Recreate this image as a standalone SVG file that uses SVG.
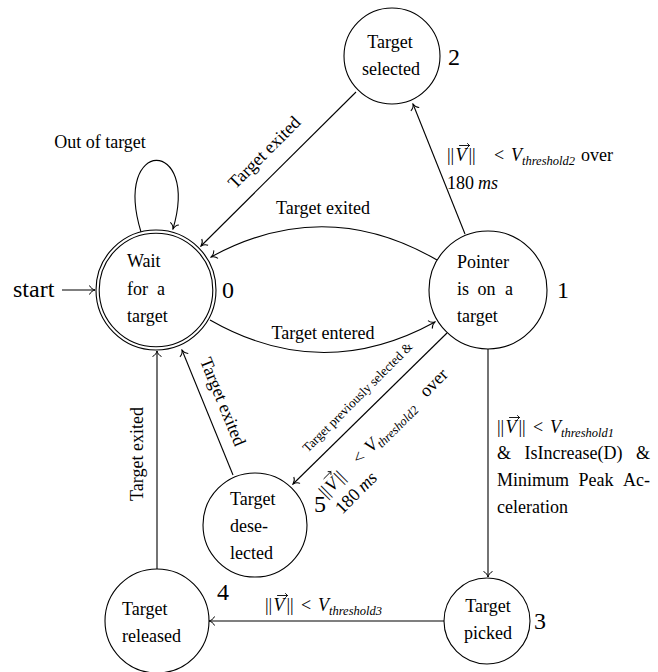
<svg xmlns="http://www.w3.org/2000/svg" width="658" height="672" viewBox="0 0 658 672">
<defs>
<marker id="arr" markerUnits="userSpaceOnUse" viewBox="-7 -6 8 12" refX="0" refY="0" markerWidth="8" markerHeight="12" orient="auto">
<path d="M -5.5 -4.5 C -4.5 -1.8 -1.5 -0.4 0 0 C -1.5 0.4 -4.5 1.8 -5.5 4.5" fill="none" stroke="#000" stroke-width="1"/>
</marker>
<style>
.n { fill: #fff; stroke: #000; stroke-width: 1.1; }
.t { font-family: "Liberation Serif", "Times New Roman", serif; font-size: 18px; fill: #000; }
.big { font-size: 24px; }
.sm { font-size: 13px; }
.i { font-style: italic; }
.sub { font-style: italic; font-size: 12.5px; }
.e { fill: none; stroke: #000; stroke-width: 1.1; marker-end: url(#arr); }
.va { fill: none; stroke: #000; stroke-width: 0.9; stroke-linecap: round; }
.m { text-anchor: middle; }
.end { text-anchor: end; }
</style>
</defs>
<rect width="658" height="672" fill="#fff"/>

<g id="edges">
<line class="e" x1="62" y1="290" x2="95" y2="290"/>
<path class="e" d="M 141 232 C 112 137, 200 137, 173 229"/>
<line class="e" x1="356" y1="92" x2="201" y2="246"/>
<path class="e" d="M 437 260 Q 325 195, 211 257"/>
<path class="e" d="M 210 320 Q 322 384, 435 322"/>
<line class="e" x1="465" y1="234" x2="413" y2="104"/>
<line class="e" x1="447" y1="333" x2="293" y2="484"/>
<line class="e" x1="233" y1="475" x2="182" y2="350"/>
<line class="e" x1="157" y1="569" x2="157" y2="351"/>
<line class="e" x1="488" y1="349" x2="488" y2="577"/>
<line class="e" x1="444" y1="621" x2="209" y2="621"/>
</g>

<g id="edge-labels">
<text class="t big" x="13" y="297">start</text>
<text class="t m" x="100" y="148">Out of target</text>
<text class="t m" transform="translate(265,153) rotate(-45)" y="5">Target exited</text>
<text class="t m" x="323" y="214">Target exited</text>
<text class="t m" x="323" y="339">Target entered</text>
<text class="t m" transform="translate(222,402) rotate(67.8)" y="5">Target exited</text>
<text class="t m" transform="translate(138,454) rotate(-90)" y="5">Target exited</text>

<g id="label-1-2">
<text class="t"><tspan x="447" y="161">||</tspan><tspan class="i" x="455.5" y="161">V</tspan><tspan x="468.5" y="161">||</tspan><tspan x="494" y="161">&lt;</tspan><tspan class="i" x="511" y="161">V</tspan><tspan class="sub" x="522" y="165">threshold2</tspan><tspan x="581" y="161">over</tspan></text>
<path class="va" d="M 459.5 145.5 H 469.5 M 467.5 143.5 L 469.5 145.5 L 467.5 147.5"/>
<text class="t" y="189"><tspan x="447">180</tspan><tspan class="i" x="478">ms</tspan></text>
</g>

<g id="label-1-5" transform="rotate(-45)">
<text class="t sm m" x="-28" y="538">Target previously selected &amp;</text>
<text class="t"><tspan x="-122" y="583">||</tspan><tspan class="i" x="-113.5" y="583">V</tspan><tspan x="-100.5" y="583">||</tspan><tspan x="-75" y="583">&lt;</tspan><tspan class="i" x="-58" y="583">V</tspan><tspan class="sub" x="-47" y="587">threshold2</tspan><tspan x="20" y="583">over</tspan></text>
<path class="va" d="M -109.5 567.5 H -99.5 M -101.5 565.5 L -99.5 567.5 L -101.5 569.5"/>
<text class="t" y="606"><tspan x="-122">180</tspan><tspan class="i" x="-91">ms</tspan></text>
</g>

<g id="label-1-3">
<text class="t"><tspan x="497" y="433">||</tspan><tspan class="i" x="505.5" y="433">V</tspan><tspan x="518.5" y="433">||</tspan><tspan x="533" y="433">&lt;</tspan><tspan class="i" x="550" y="433">V</tspan><tspan class="sub" x="561" y="437">threshold1</tspan></text>
<path class="va" d="M 509.5 417.5 H 519.5 M 517.5 415.5 L 519.5 417.5 L 517.5 419.5"/>
<text class="t" x="497" y="459">&amp;</text>
<text class="t m" x="573.5" y="459">IsIncrease(D)</text>
<text class="t end" x="650" y="459">&amp;</text>
<text class="t" x="497" y="486">Minimum</text>
<text class="t m" x="596" y="486">Peak</text>
<text class="t end" x="650" y="486">Ac-</text>
<text class="t" x="497" y="513">celeration</text>
</g>

<g id="label-3-4">
<text class="t"><tspan x="265" y="611">||</tspan><tspan class="i" x="273.5" y="611">V</tspan><tspan x="286.5" y="611">||</tspan><tspan x="301" y="611">&lt;</tspan><tspan class="i" x="318" y="611">V</tspan><tspan class="sub" x="329" y="615">threshold3</tspan></text>
<path class="va" d="M 277.5 595.5 H 287.5 M 285.5 593.5 L 287.5 595.5 L 285.5 597.5"/>
</g>
</g>

<g id="node0">
<circle class="n" cx="156" cy="290" r="60"/>
<circle class="n" cx="156" cy="290" r="56.8"/>
<text class="t" x="127" y="267">Wait</text>
<text class="t" x="127" y="295">for</text>
<text class="t end" x="165" y="295">a</text>
<text class="t" x="127" y="322">target</text>
<text class="t big" x="222" y="298">0</text>
</g>

<g id="node1">
<circle class="n" cx="488" cy="290" r="59"/>
<text class="t" x="457" y="268">Pointer</text>
<text class="t" x="457" y="295">is</text>
<text class="t m" x="486.5" y="295">on</text>
<text class="t end" x="513" y="295">a</text>
<text class="t" x="457" y="322">target</text>
<text class="t big" x="557" y="298">1</text>
</g>

<g id="node2">
<circle class="n" cx="392" cy="56" r="48"/>
<text class="t m" x="390" y="48">Target</text>
<text class="t m" x="391" y="75">selected</text>
<text class="t big" x="448" y="65">2</text>
</g>

<g id="node3">
<circle class="n" cx="487" cy="621" r="43"/>
<text class="t m" x="488" y="612">Target</text>
<text class="t m" x="488" y="639">picked</text>
<text class="t big" x="534" y="629">3</text>
</g>

<g id="node4">
<circle class="n" cx="157" cy="621" r="52"/>
<text class="t" x="122" y="615">Target</text>
<text class="t" x="122" y="642">released</text>
<text class="t big" x="217" y="600">4</text>
</g>

<g id="node5">
<circle class="n" cx="255" cy="525" r="52"/>
<text class="t" x="230" y="505">Target</text>
<text class="t" x="230" y="532">dese-</text>
<text class="t" x="230" y="559">lected</text>
<text class="t big" x="314" y="512">5</text>
</g>
</svg>
